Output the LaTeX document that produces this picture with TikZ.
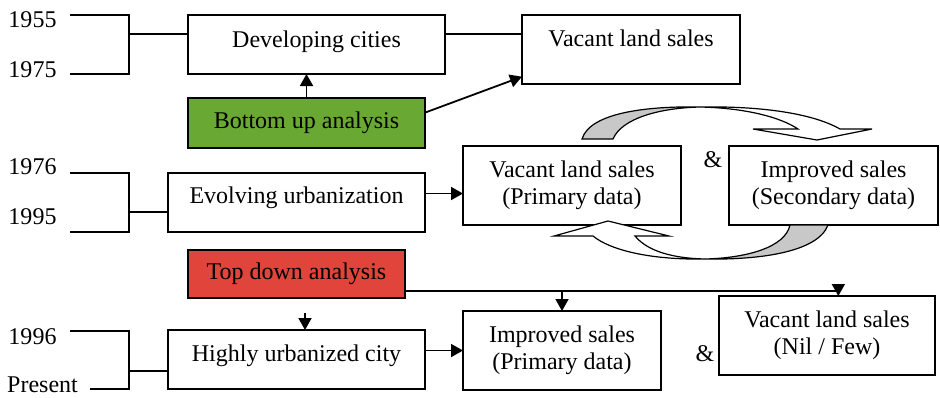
\documentclass[tikz,border=0pt]{standalone}
\usepackage{fontspec}
\setmainfont{Liberation Serif}
\usetikzlibrary{arrows.meta}
\definecolor{upgreen}{RGB}{106,168,52}
\definecolor{downred}{RGB}{224,68,58}
\definecolor{twistgray}{RGB}{200,200,200}

\begin{document}
\begin{tikzpicture}[x=0.5pt,y=-0.5pt,
  font=\fontsize{12}{13.3}\selectfont,
  box/.style={draw,line width=0.7pt,inner sep=0pt,outer sep=0pt,align=center},
  link/.style={line width=0.9pt,-{Triangle[length=6pt,width=6.5pt]}},
  plain/.style={line width=0.8pt}]

\useasboundingbox (0,0) rectangle (940,397);

% Bracket positions
\def\brx{129}
\def\brl{70}

% Year labels
\foreach \yr/\yy in {1955/19.5, 1975/70, 1976/167, 1995/217, 1996/337}
  \node (y\yr) at (32.5,\yy) {\yr};
\node (ypresent) at (42.5,385) {Present};

% Boxes
\node[box,minimum width=128.5pt,minimum height=29.5pt,text depth=5.5pt] (dev) at (316.5,44.5) {Developing cities};
\node[box,minimum width=109pt,minimum height=34.5pt,text depth=11.7pt] (vac1) at (631,49.5) {Vacant land sales};
\node[box,fill=upgreen,minimum width=118.5pt,minimum height=25pt] (bu) at (306.5,123) {Bottom up analysis};
\node[box,minimum width=128.5pt,minimum height=29.5pt,text depth=7.4pt] (evo) at (296.5,202.5) {Evolving urbanization};
\node[box,minimum width=109pt,minimum height=39.5pt] (prim) at (572,185.5) {Vacant land sales\\(Primary data)};
\node[box,minimum width=104.5pt,minimum height=39.5pt] (sec) at (833.5,185.5) {Improved sales\\(Secondary data)};
\node[box,fill=downred,minimum width=108.5pt,minimum height=24pt] (td) at (296.5,274) {Top down analysis};
\node[box,minimum width=128.5pt,minimum height=29.5pt,text depth=6pt] (high) at (296.5,359.5) {Highly urbanized city};
\node[box,minimum width=99pt,minimum height=39.5pt] (imp) at (562,350.5) {Improved sales\\(Primary data)};
\node[box,minimum width=108pt,minimum height=39.5pt] (nil) at (827,335.5) {Vacant land sales\\(Nil / Few)};

\node (and1) at (713,160) {\&};
\node (and2) at (705,354) {\&};

% Year brackets
\foreach \top/\bot/\mid/\bx/\xs in {15/74/34/dev/\brl, 173/232/212/evo/\brl, 331/389/371/high/90}{
  \draw[plain] (\brl,\top) -| (\brx,\bot) -- (\xs,\bot);
  \draw[plain] (\brx,\mid) -- (\bx.west |- \brx,\mid);
}

% Connectors
\draw[plain] (dev.east |- 0,34) -- (vac1.west |- 0,34);
\draw[link] (bu.north) -- (bu.north |- dev.south);
\draw[link] (bu.5) -- (vac1.194);
\draw[link] (evo.4) -- (evo.4 -| prim.west);
\draw[link] (td.-9) -| (nil.74);
\draw[link] (td.-9 -| imp.north) -- (imp.north);
\coordinate (tdtip) at (305,313);
\draw[link] (tdtip) -- (tdtip |- high.north);
\draw[link] (high.4) -- (high.4 -| imp.west);

% Curved arrow on top
\draw[line width=0.6pt,fill=twistgray] (582,139) .. controls (590,112) and (650,106) .. (700,107)
  .. controls (660,108) and (622,118) .. (613,139) -- cycle;
\draw[line width=0.6pt,fill=white] (700,107) .. controls (745,108) and (780,117) .. (798,129)
  -- (753,129) -- (817,140) -- (872,129) -- (840,129)
  .. controls (810,112) and (755,106) .. (700,107) -- cycle;

% Curved arrow below
\draw[line width=0.6pt,fill=twistgray] (790,225) .. controls (785,248) and (745,258) .. (705,259)
  .. controls (760,260) and (818,252) .. (828,225) -- cycle;
\draw[line width=0.6pt,fill=white] (705,259) .. controls (650,260) and (610,250) .. (593,236)
  -- (554,236) -- (608,221) -- (669,236) -- (635,236)
  .. controls (645,248) and (665,258) .. (705,259) -- cycle;
\end{tikzpicture}
\end{document}
